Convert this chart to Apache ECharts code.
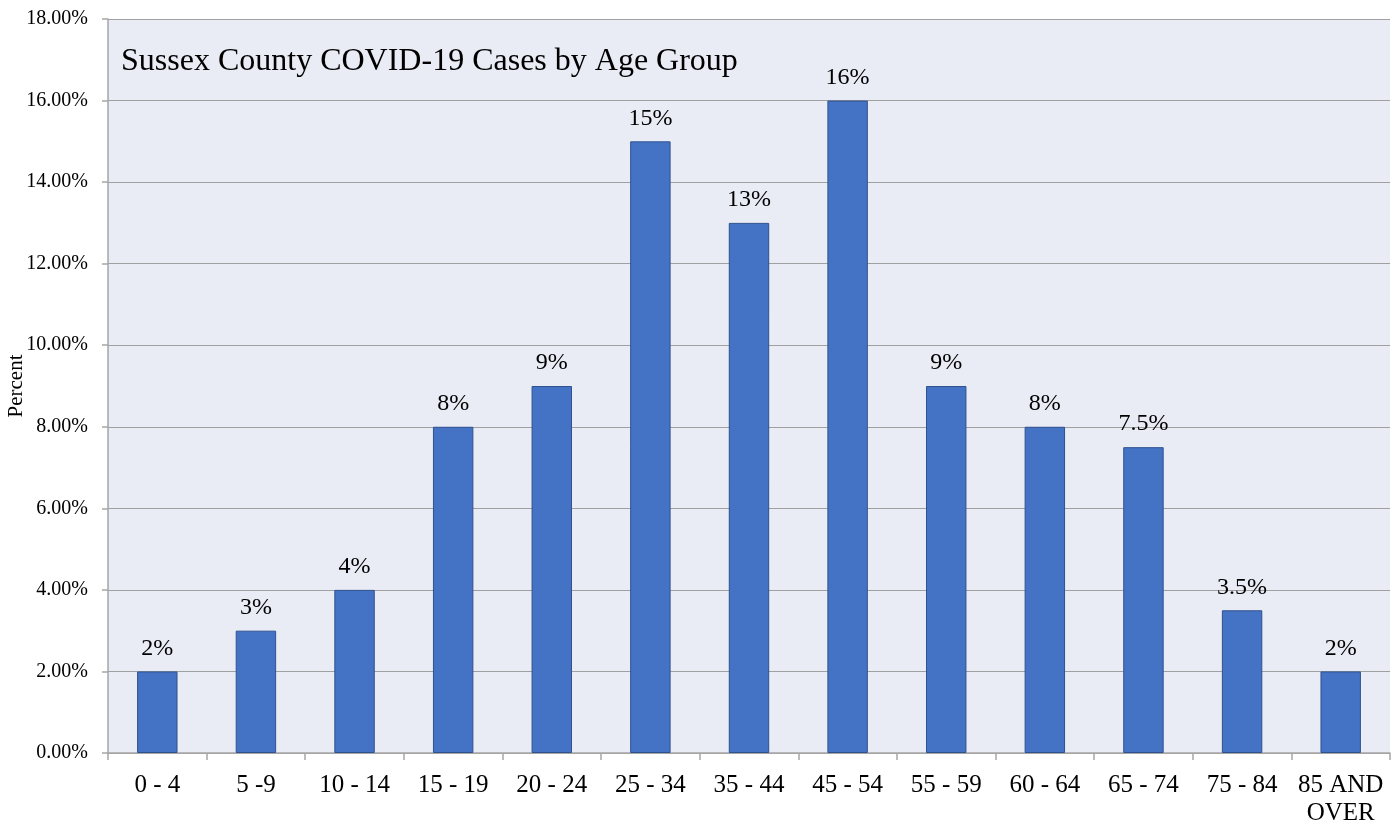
<!DOCTYPE html>
<html>
<head>
<meta charset="utf-8">
<script src="https://cdn.jsdelivr.net/npm/echarts@6/dist/echarts.min.js"></script>
<style>
  html, body { margin: 0; padding: 0; background: #ffffff; }
  #chart { width: 1399px; height: 829px; }
</style>
</head>
<body>
<div id="chart"></div>
<script>
const ageGroups = ["0 - 4", "5 -9", "10 - 14", "15 - 19", "20 - 24", "25 - 34", "35 - 44",
  "45 - 54", "55 - 59", "60 - 64", "65 - 74", "75 - 84", "85 AND\nOVER"];
const percentValues = [2, 3, 4, 8, 9, 15, 13, 16, 9, 8, 7.5, 3.5, 2];
const chartTitle = "Sussex County COVID-19 Cases by Age Group";

const serif = "'Liberation Serif', 'Times New Roman', serif";
const chart = echarts.init(document.getElementById("chart"));

const option = {
  animation: false,
  backgroundColor: "#ffffff",
  title: {
    text: chartTitle,
    left: 121,
    top: 46,
    padding: 0,
    textStyle: { fontFamily: serif, fontSize: 32, fontWeight: "normal", color: "#000000" },
  },
  grid: {
    left: 108,
    right: 9,
    top: 19,
    bottom: 76,
    containLabel: false,
    outerBoundsMode: "none",
    show: true,
    backgroundColor: "#E9EBF5",
    borderWidth: 0,
  },
  xAxis: {
    type: "category",
    data: ageGroups,
    axisLine: { lineStyle: { color: "#A6A6A6", width: 1.5 } },
    axisTick: { show: true, length: 7, lineStyle: { color: "#A6A6A6", width: 1.5 } },
    axisLabel: {
      color: "#000000",
      fontFamily: serif,
      fontSize: 25,
      margin: 18,
      lineHeight: 28,
      interval: 0,
    },
  },
  yAxis: {
    type: "value",
    min: 0,
    max: 18,
    interval: 2,
    name: "Percent",
    nameLocation: "middle",
    nameRotate: 90,
    nameGap: 81,
    nameMoveOverlap: false,
    nameTextStyle: { fontFamily: serif, fontSize: 21, color: "#000000" },
    axisLine: { show: true, lineStyle: { color: "#A6A6A6", width: 1.5 } },
    axisTick: { show: true, length: 6, lineStyle: { color: "#A6A6A6", width: 1.5 } },
    axisLabel: {
      color: "#000000",
      fontFamily: serif,
      fontSize: 20,
      margin: 20,
      formatter: (v) => v.toFixed(2) + "%",
    },
    splitLine: { lineStyle: { color: "#A0A0A0", width: 1.2 } },
  },
  series: [
    {
      type: "bar",
      data: percentValues,
      barWidth: "41%",
      itemStyle: { color: "#4472C4", borderColor: "#2F528F", borderWidth: 1 },
      label: {
        show: true,
        position: "top",
        distance: 11,
        color: "#000000",
        fontFamily: serif,
        fontSize: 24,
        formatter: (p) => p.value + "%",
      },
    },
  ],
};

chart.setOption(option);
</script>
</body>
</html>
